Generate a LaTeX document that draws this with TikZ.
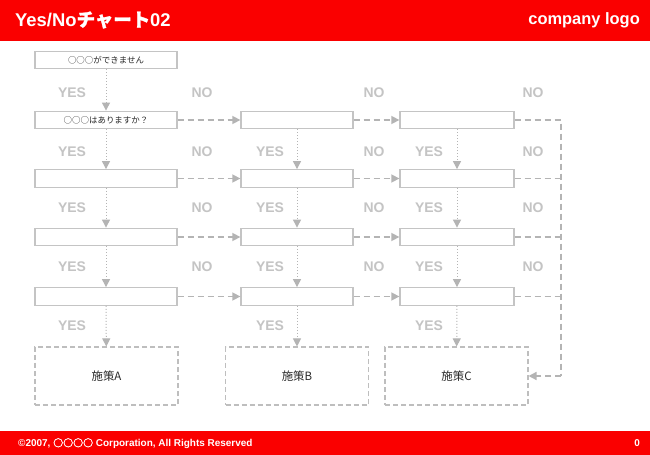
\documentclass[tikz,border=0pt]{standalone}
\usepackage{fontspec}
\usetikzlibrary{arrows.meta}
\newfontfamily\lat{Liberation Sans}
\newfontfamily\cjk{Noto Sans CJK JP}
\newfontfamily\cjkb{Noto Sans CJK JP}[FakeBold=1.5]
\definecolor{hdrred}{RGB}{250,0,0}
\definecolor{boxgray}{RGB}{196,196,196}
\definecolor{yngray}{RGB}{196,196,196}
\definecolor{arrgray}{RGB}{180,180,180}
\definecolor{resgray}{RGB}{190,190,190}
\definecolor{txtdark}{RGB}{40,40,40}
\tikzset{
  qbox/.style={draw=boxgray, line width=1.3bp, fill=white, minimum height=17.5bp, inner sep=0pt, text=txtdark, font=\cjk\fontsize{8.5}{9}\selectfont},
  rbox/.style={draw=resgray, dash pattern=on 5bp off 3bp, line width=1.1bp, minimum width=143bp, minimum height=58bp, inner sep=0pt, text=txtdark, font=\cjk\fontsize{11.5}{12}\selectfont},
  yn/.style={text=yngray, inner sep=0pt, font=\lat\bfseries\fontsize{14}{14}\selectfont},
  yarr/.style={draw=arrgray, dotted, line width=1bp, -{Triangle[length=8bp,width=8bp]}},
  nline/.style={draw=arrgray, dash pattern=on 6bp off 4bp, line width=1.5bp},
  narr/.style={nline, -{Triangle[length=8bp,width=8bp]}},
  hdr/.style={text=white, inner sep=0pt, font=\lat\bfseries},
}
\begin{document}
\begin{tikzpicture}[x=1bp,y=-1bp]
\useasboundingbox (0,0) rectangle (650,455);
\fill[white] (0,0) rectangle (650,455);
% header and footer
\fill[hdrred] (0,0) rectangle (650,41);
\fill[hdrred] (0,431) rectangle (650,455);
\node[hdr, anchor=west, font=\lat\bfseries\fontsize{18.5}{20}\selectfont] (title) at (15,20) {Yes/No{\cjkb チャート}02};
\node[hdr, anchor=east, font=\lat\bfseries\fontsize{16.5}{18}\selectfont] (logo) at (640,20) {company logo};
\node[hdr, anchor=west, font=\lat\bfseries\fontsize{10}{10}\selectfont] (copy) at (18,443.5) {©2007, {\cjkb ○○○○} Corporation, All Rights Reserved};
\node[hdr, anchor=east, font=\lat\bfseries\fontsize{10}{10}\selectfont] (page) at (640,443.5) {0};
% question boxes
\node[qbox, minimum width=142bp] (q11) at (106,60) {○○○ができません};
\node[qbox, minimum width=142bp] (q12) at (106,120) {○○○はありますか？};
\node[qbox, minimum width=142bp] (q13) at (106,178.5) {};
\node[qbox, minimum width=142bp] (q14) at (106,237) {};
\node[qbox, minimum width=142bp] (q15) at (106,296.5) {};
\node[qbox, minimum width=112bp] (q22) at (297,120) {};
\node[qbox, minimum width=112bp] (q23) at (297,178.5) {};
\node[qbox, minimum width=112bp] (q24) at (297,237) {};
\node[qbox, minimum width=112bp] (q25) at (297,296.5) {};
\node[qbox, minimum width=114bp] (q32) at (457,120) {};
\node[qbox, minimum width=114bp] (q33) at (457,178.5) {};
\node[qbox, minimum width=114bp] (q34) at (457,237) {};
\node[qbox, minimum width=114bp] (q35) at (457,296.5) {};
% result boxes
\node[rbox] (ra) at (106.5,376) {施策A};
\node[rbox] (rb) at (297,376) {施策B};
\node[rbox] (rc) at (456.5,376) {施策C};
% YES arrows
\draw[yarr] (q11) -- (q12);
\draw[yarr] (q12) -- (q13);
\draw[yarr] (q13) -- (q14);
\draw[yarr] (q14) -- (q15);
\draw[yarr] (q15) -- (ra);
\draw[yarr] (q22) -- (q23);
\draw[yarr] (q23) -- (q24);
\draw[yarr] (q24) -- (q25);
\draw[yarr] (q25) -- (rb);
\draw[yarr] (q32) -- (q33);
\draw[yarr] (q33) -- (q34);
\draw[yarr] (q34) -- (q35);
\draw[yarr] (q35) -- (rc);
% NO arrows
\draw[narr] (q12) -- (q22);
\draw[narr] (q13) -- (q23);
\draw[narr] (q14) -- (q24);
\draw[narr] (q15) -- (q25);
\draw[narr] (q22) -- (q32);
\draw[narr] (q23) -- (q33);
\draw[narr] (q24) -- (q34);
\draw[narr] (q25) -- (q35);
\coordinate (e2) at (561,120);
\coordinate (e3) at (561,178.5);
\coordinate (e4) at (561,237);
\coordinate (e5) at (561,296.5);
\coordinate (ec) at (561,376);
\draw[nline] (q32.east) -- (e2) -- (ec);
\draw[nline] (q33.east) -- (e3);
\draw[nline] (q34.east) -- (e4);
\draw[nline] (q35.east) -- (e5);
\draw[narr] (ec) -- (rc.east);
% YES labels
\node[yn] (y11) at (72,93) {YES};
\node[yn] (y12) at (72,152) {YES};
\node[yn] (y13) at (72,208) {YES};
\node[yn] (y14) at (72,267) {YES};
\node[yn] (y15) at (72,326) {YES};
\node[yn] (y22) at (270,152) {YES};
\node[yn] (y23) at (270,208) {YES};
\node[yn] (y24) at (270,267) {YES};
\node[yn] (y25) at (270,326) {YES};
\node[yn] (y32) at (429,152) {YES};
\node[yn] (y33) at (429,208) {YES};
\node[yn] (y34) at (429,267) {YES};
\node[yn] (y35) at (429,326) {YES};
% NO labels
\node[yn] (n11) at (202,93) {NO};
\node[yn] (n12) at (202,152) {NO};
\node[yn] (n13) at (202,208) {NO};
\node[yn] (n14) at (202,267) {NO};
\node[yn] (n21) at (374,93) {NO};
\node[yn] (n22) at (374,152) {NO};
\node[yn] (n23) at (374,208) {NO};
\node[yn] (n24) at (374,267) {NO};
\node[yn] (n31) at (533,93) {NO};
\node[yn] (n32) at (533,152) {NO};
\node[yn] (n33) at (533,208) {NO};
\node[yn] (n34) at (533,267) {NO};
\end{tikzpicture}
\end{document}
